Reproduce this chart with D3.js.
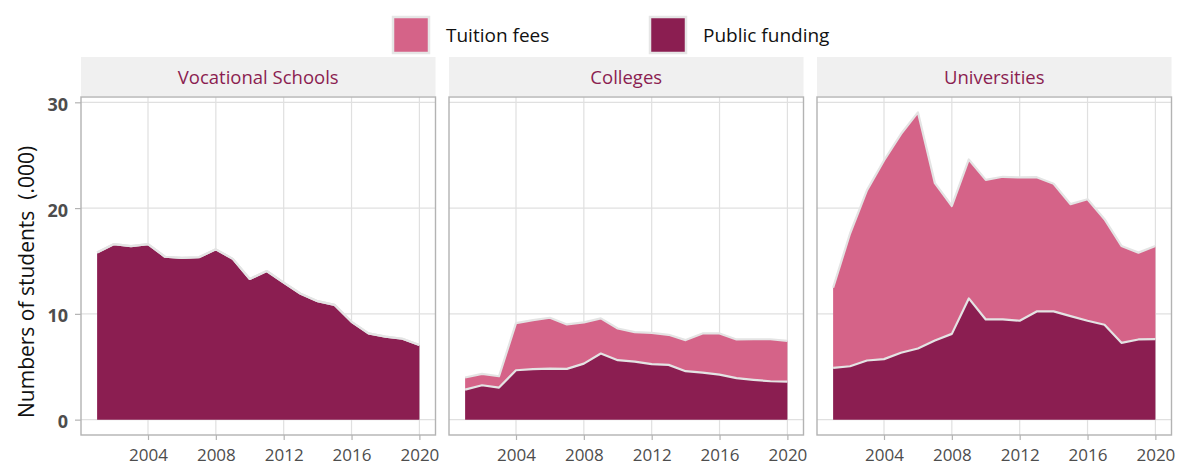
<!DOCTYPE html>
<html>
<head>
<meta charset="utf-8">
<script src="https://cdn.jsdelivr.net/npm/d3@7"></script>
<style>
  html, body { margin: 0; padding: 0; background: #fff; }
  svg { display: block; font-family: "Open Sans", "Noto Sans", sans-serif; }
</style>
</head>
<body>
<svg id="chart" width="1177" height="466"></svg>
<script>
// ---- data ----
const years = [2001, 2002, 2003, 2004, 2005, 2006, 2007, 2008, 2009, 2010,
               2011, 2012, 2013, 2014, 2015, 2016, 2017, 2018, 2019, 2020];
const facetNames = ["Vocational Schools", "Colleges", "Universities"];
const seriesNames = ["Public funding", "Tuition fees"];

const vocationalPublic  = [15.8, 16.6, 16.4, 16.6, 15.4, 15.3, 15.35, 16.1, 15.2, 13.3,
                           14.05, 12.95, 11.9, 11.2, 10.85, 9.25, 8.15, 7.85, 7.65, 7.05];
const vocationalTuition = [0, 0, 0, 0, 0, 0, 0, 0, 0, 0, 0, 0, 0, 0, 0, 0, 0, 0, 0, 0];

const collegesPublic  = [2.84, 3.25, 3.03, 4.67, 4.77, 4.83, 4.8, 5.3, 6.25, 5.62,
                         5.49, 5.24, 5.18, 4.58, 4.45, 4.26, 3.92, 3.76, 3.63, 3.6];
const collegesTuition = [1.14, 1.08, 1.07, 4.46, 4.63, 4.8, 4.2, 3.89, 3.32, 3.0,
                         2.78, 2.97, 2.84, 2.94, 3.7, 3.89, 3.66, 3.84, 3.97, 3.85];

const universitiesPublic  = [4.89, 5.05, 5.59, 5.72, 6.32, 6.73, 7.48, 8.11, 11.46, 9.47,
                             9.47, 9.35, 10.23, 10.23, 9.79, 9.35, 8.97, 7.26, 7.58, 7.61];
const universitiesTuition = [7.58, 12.55, 16.11, 18.78, 20.68, 22.32, 14.88, 12.09, 13.14, 13.2,
                             13.49, 13.55, 12.69, 12.07, 10.58, 11.49, 9.98, 9.16, 8.21, 8.81];

const xTicks = [2004, 2008, 2012, 2016, 2020];
const yTicks = [0, 10, 20, 30];
const yTitle = "Numbers of students\u00a0\u00a0(.000)";

// ---- build tables ----
const facetData = [
  { name: facetNames[0], pub: vocationalPublic,   tui: vocationalTuition },
  { name: facetNames[1], pub: collegesPublic,     tui: collegesTuition },
  { name: facetNames[2], pub: universitiesPublic, tui: universitiesTuition }
].map(f => ({
  name: f.name,
  rows: years.map((y, i) => ({ year: y, "Public funding": f.pub[i], "Tuition fees": f.tui[i] }))
}));

// ---- styles ----
const colors = { "Public funding": "#8b1e51", "Tuition fees": "#d56388" };
const outline = "#e4e4e4";
const gridCol = "#e0e0e0";
const borderCol = "#b3b3b3";
const tickTextCol = "#4d4d4d";
const stripFill = "#f0f0f0";
const stripText = "#8b1e51";

// ---- layout ----
const svg = d3.select("#chart");
const panelTop = 97, panelBottom = 435;
const panelW = 354.5, gap = 13.5, firstLeft = 81;
const stripTop = 57;

const stack = d3.stack().keys(seriesNames);
const stacked = facetData.map(f => ({ name: f.name, layers: stack(f.rows) }));

const maxTotal = d3.max(stacked, f => d3.max(f.layers[f.layers.length - 1], d => d[1]));
const yExp = maxTotal * 0.05;
const y = d3.scaleLinear().domain([0 - yExp, maxTotal + yExp]).range([panelBottom, panelTop]);

const xMin = d3.min(years), xMax = d3.max(years);
const xExp = (xMax - xMin) * 0.05;

// legend
const legendItems = [
  { key: "Tuition fees", x: 393 },
  { key: "Public funding", x: 650 }
];
const lg = svg.append("g");
legendItems.forEach(it => {
  lg.append("rect").attr("x", it.x).attr("y", 17).attr("width", 36).attr("height", 36)
    .attr("fill", colors[it.key]).attr("stroke", "#e6e6e6").attr("stroke-width", 2.5);
  lg.append("text").attr("x", it.x + 53).attr("y", 42)
    .attr("font-size", 19).attr("fill", "#111").text(it.key);
});

// y title
svg.append("text")
  .attr("font-size", 21).attr("fill", "#111")
  .attr("transform", "translate(34, 418) rotate(-90)")
  .text(yTitle);

stacked.forEach((f, i) => {
  const left = firstLeft + i * (panelW + gap);
  const right = left + panelW;
  const x = d3.scaleLinear().domain([xMin - xExp, xMax + xExp]).range([left, right]);
  const g = svg.append("g");

  // strip
  g.append("rect").attr("x", left).attr("y", stripTop).attr("width", panelW)
    .attr("height", panelTop - stripTop - 1).attr("fill", stripFill);
  g.append("text").attr("x", (left + right) / 2).attr("y", 84)
    .attr("text-anchor", "middle").attr("font-size", 18.5).attr("fill", stripText)
    .text(f.name);

  // grid
  g.append("g").selectAll("line").data(yTicks).join("line")
    .attr("x1", left).attr("x2", right).attr("y1", d => y(d)).attr("y2", d => y(d))
    .attr("stroke", gridCol).attr("stroke-width", 1.2);
  g.append("g").selectAll("line").data(xTicks).join("line")
    .attr("x1", d => x(d)).attr("x2", d => x(d)).attr("y1", panelTop).attr("y2", panelBottom)
    .attr("stroke", gridCol).attr("stroke-width", 1.2);

  // areas
  const area = d3.area().x(d => x(d.data.year)).y0(d => y(d[0])).y1(d => y(d[1]));
  const line = d3.line().x(d => x(d.data.year)).y(d => y(d[1]));
  g.append("g").selectAll("path").data(f.layers).join("path")
    .attr("d", area).attr("fill", d => colors[d.key]);
  g.append("g").selectAll("path").data(f.layers).join("path")
    .attr("d", line).attr("fill", "none").attr("stroke", outline).attr("stroke-width", 2.2)
    .attr("stroke-linejoin", "round");

  // border
  g.append("rect").attr("x", left).attr("y", panelTop).attr("width", panelW)
    .attr("height", panelBottom - panelTop).attr("fill", "none")
    .attr("stroke", borderCol).attr("stroke-width", 1.4);

  // x axis
  const xAxis = d3.axisBottom(x).tickValues(xTicks).tickFormat(d3.format("d"))
    .tickSize(5).tickPadding(8.5);
  const ax = g.append("g").attr("transform", `translate(0, ${panelBottom})`).call(xAxis);
  ax.select(".domain").remove();
  ax.selectAll(".tick line").attr("stroke", borderCol).attr("stroke-width", 1.2);
  ax.selectAll(".tick text").attr("font-size", 17).attr("fill", tickTextCol)
    .attr("font-family", "Open Sans, sans-serif");

  if (i === 0) {
    const yAxis = d3.axisLeft(y).tickValues(yTicks).tickSize(6).tickPadding(7);
    const ay = g.append("g").attr("transform", `translate(${left}, 0)`).call(yAxis);
    ay.select(".domain").remove();
    ay.selectAll(".tick line").attr("stroke", borderCol).attr("stroke-width", 1.2);
    ay.selectAll(".tick text").attr("font-size", 18).attr("font-weight", "bold")
      .attr("dy", "0.45em")
      .attr("fill", tickTextCol).attr("font-family", "Open Sans, sans-serif");
  }
});
</script>
</body>
</html>
